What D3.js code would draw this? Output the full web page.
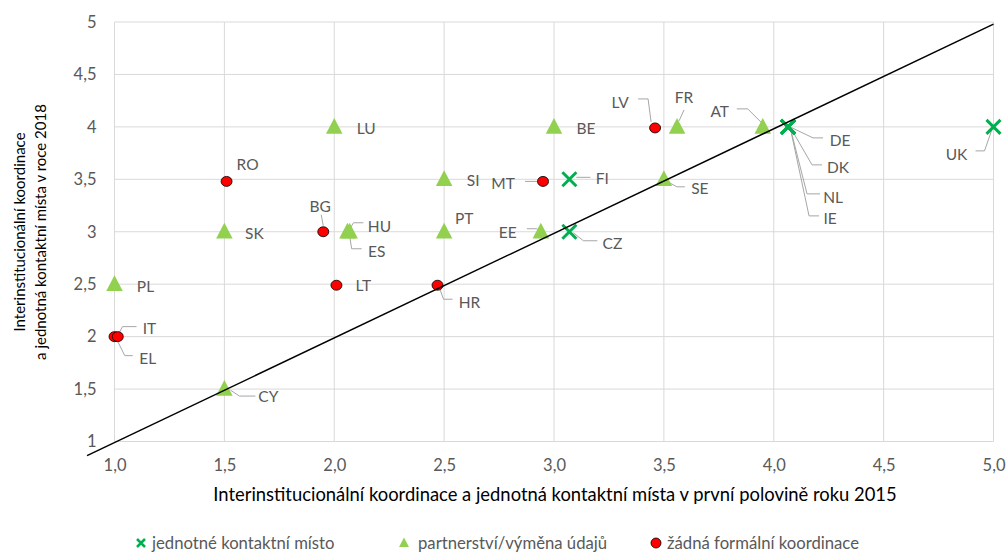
<!DOCTYPE html>
<html><head><meta charset="utf-8">
<script src="https://cdn.jsdelivr.net/npm/d3@7"></script>
<style>body{margin:0;background:#fff;} svg{display:block;}</style>
</head><body>
<svg id="chart" width="1006" height="552"></svg>
<script>
// ---- data ----
const xTicks = [1.0, 1.5, 2.0, 2.5, 3.0, 3.5, 4.0, 4.5, 5.0];
const yTicks = [1, 1.5, 2, 2.5, 3, 3.5, 4, 4.5, 5];
const xTitle = "Interinstitucionální koordinace a jednotná kontaktní místa v první polovině roku 2015";
const yTitle = ["Interinstitucionální koordinace", "a jednotná kontaktní místa v roce 2018"];
const seriesNames = ["jednotné kontaktní místo", "partnerství/výměna údajů", "žádná formální koordinace"];

const singleNames = ["FI", "CZ", "DE", "DK", "NL", "IE", "UK"];
const single2015  = [3.07, 3.07, 4.065, 4.065, 4.065, 4.065, 5.0];
const single2018  = [3.5, 3.0, 4.0, 4.0, 4.0, 4.0, 4.0];

const partnerNames = ["PL", "SK", "CY", "LU", "HU", "ES", "SI", "PT", "EE", "BE", "FR", "AT", "SE"];
const partner2015  = [1.0, 1.5, 1.5, 2.0, 2.06, 2.07, 2.5, 2.5, 2.94, 3.0, 3.56, 3.95, 3.5];
const partner2018  = [2.5, 3.0, 1.5, 4.0, 3.0, 3.0, 3.5, 3.0, 3.0, 4.0, 4.0, 4.0, 3.5];

const noneNames = ["IT", "EL", "RO", "BG", "LT", "HR", "MT", "LV"];
const none2015  = [1.0, 1.015, 1.51, 1.95, 2.01, 2.47, 2.95, 3.46];
const none2018  = [2.0, 2.0, 3.48, 3.0, 2.49, 2.49, 3.48, 3.99];

const diagX = [0.875, 5.0];
const diagY = [0.865, 4.98];

// ---- label layout (offsets in px from the marker) ----
const labelLayout = {
  RO:{t:[21,-17]}, BG:{t:[-3,-26], l:[[-2,-17],[0,-6]]}, LT:{t:[27,0]},
  HR:{t:[32,17], l:[[2,3],[6,14],[15,14]]}, MT:{t:[-40,2], l:[[-18,0],[-6,0],[-3,-1]]},
  LV:{t:[-35,-26], l:[[-17,-29],[-7,-29],[-4,-6]]},
  FR:{t:[7,-30], l:[[7,-17],[2,-6]]}, AT:{t:[-43,-16], l:[[-26,-18],[-15,-18],[-1,-4]]},
  SE:{t:[36,9], l:[[3,2],[13,7.5],[21,7.5]]}, FI:{t:[33,-1.5], l:[[7,-2],[21,-2]]},
  CZ:{t:[43,11], l:[[4,1],[14,9],[28,9]]},
  DE:{t:[52,13], l:[[2,0],[25,11],[35,11]]}, DK:{t:[50,40], l:[[2,0],[24,38],[34,38]]},
  NL:{t:[45,70], l:[[2,0],[19,67],[32,67]]}, IE:{t:[42,91], l:[[2,0],[21,89],[31,89]]},
  UK:{t:[-37,27], l:[[-1,1],[-9,24],[-18,24]]},
  EE:{t:[-33,0], l:[[-14,-3],[-4,-3],[0,0]]},
  HU:{t:[32,-6], l:[[2,-2],[6,-9],[16,-9]]}, ES:{t:[27,19], l:[[0,4],[2,17],[12,17]]},
  PT:{t:[20,-14]}, SI:{t:[29,1]}, CY:{t:[44,7], l:[[6,1],[15,7],[31,7]]},
  IT:{t:[35,-9], l:[[2,1],[8,-10],[22,-10]]}, EL:{t:[30,21], l:[[-2,1],[7,19],[15,19]]},
  PL:{t:[31,1.5]}, SK:{t:[30,1]}, LU:{t:[32,1]}, BE:{t:[32,1]}
};

const FONT = "Lato, 'Open Sans', sans-serif";
const svg = d3.select("#chart");
const x = d3.scaleLinear().domain([1, 5]).range([114.5, 993.5]);
const y = d3.scaleLinear().domain([1, 5]).range([441.5, 22]);

// grid
const g = svg.append("g");
g.selectAll(".gx").data(xTicks).join("line")
  .attr("x1", d => x(d)).attr("x2", d => x(d)).attr("y1", y(5)).attr("y2", y(1))
  .attr("stroke", "#d9d9d9").attr("stroke-width", 1);
g.selectAll(".gy").data(yTicks).join("line")
  .attr("x1", x(1)).attr("x2", x(5)).attr("y1", d => y(d)).attr("y2", d => y(d))
  .attr("stroke", "#d9d9d9").attr("stroke-width", 1);

// axes via d3 axis
const fmtX = d => d3.format(".1f")(d).replace(".", ",");
const fmtY = d => String(d).replace(".", ",");
const xAxis = svg.append("g").attr("transform", `translate(0,${y(1)})`)
  .call(d3.axisBottom(x).tickValues(xTicks).tickFormat(fmtX).tickSize(0).tickPadding(18));
const yAxis = svg.append("g").attr("transform", `translate(${x(1)},0)`)
  .call(d3.axisLeft(y).tickValues(yTicks).tickFormat(fmtY).tickSize(0).tickPadding(18));
[xAxis, yAxis].forEach(a => {
  a.select(".domain").remove();
  a.selectAll("text").attr("fill", "#595959").style("font-family", FONT).style("font-size", "16.5px");
});

// titles
svg.append("text").attr("x", 555).attr("y", 494).attr("text-anchor", "middle")
  .attr("dominant-baseline", "central")
  .style("font-family", FONT).style("font-size", "18.4px").attr("fill", "#000").text(xTitle);
yTitle.forEach((t, i) => {
  svg.append("text").attr("transform", `translate(${25 + i * 21},232) rotate(-90)`)
    .attr("text-anchor", "middle").style("font-family", FONT).style("font-size", "15px")
    .attr("fill", "#000").text(t);
});

// build point sets
const mk = (names, xs, ys, type) => names.map((n, i) => ({name: n, x: xs[i], y: ys[i], type}));
const pts = [].concat(
  mk(noneNames, none2015, none2018, "circle"),
  mk(partnerNames, partner2015, partner2018, "tri"),
  mk(singleNames, single2015, single2018, "x")
);

// leaders
const lg = svg.append("g");
pts.forEach(p => {
  const L = labelLayout[p.name];
  if (L && L.l) {
    const px = x(p.x), py = y(p.y);
    lg.append("polyline")
      .attr("points", L.l.map(q => `${px + q[0]},${py + q[1]}`).join(" "))
      .attr("fill", "none").attr("stroke", "#a6a6a6").attr("stroke-width", 1);
  }
});

// markers
const triPath = s => `M0,${-s * 0.6}L${s * 0.55},${s * 0.45}L${-s * 0.55},${s * 0.45}Z`;
const xPath = s => `M${-s},${-s}L${s},${s}M${-s},${s}L${s},${-s}`;
const mg = svg.append("g");
mg.selectAll(".tri").data(pts.filter(p => p.type === "tri")).join("path")
  .attr("transform", d => `translate(${x(d.x)},${y(d.y)})`)
  .attr("d", triPath(15)).attr("fill", "#92d050");
mg.selectAll(".cir").data(pts.filter(p => p.type === "circle")).join("ellipse")
  .attr("cx", d => x(d.x)).attr("cy", d => y(d.y)).attr("rx", 5.5).attr("ry", 5)
  .attr("fill", "#ff0000").attr("stroke", "#000").attr("stroke-width", 0.8);
mg.selectAll(".xx").data(pts.filter(p => p.type === "x")).join("path")
  .attr("transform", d => `translate(${x(d.x)},${y(d.y)})`)
  .attr("d", xPath(7)).attr("stroke", "#00b050").attr("stroke-width", 3).attr("fill", "none");

// diagonal line
svg.append("line")
  .attr("x1", x(diagX[0])).attr("y1", y(diagY[0])).attr("x2", x(diagX[1])).attr("y2", y(diagY[1]))
  .attr("stroke", "#000").attr("stroke-width", 1.5);

// labels
svg.append("g").selectAll("text").data(pts).join("text")
  .attr("x", d => x(d.x) + labelLayout[d.name].t[0])
  .attr("y", d => y(d.y) + labelLayout[d.name].t[1])
  .attr("text-anchor", "middle").attr("dominant-baseline", "central")
  .style("font-family", FONT).style("font-size", "15.5px").attr("fill", "#595959")
  .text(d => d.name);

// legend
const legY = 543;
const leg = svg.append("g");
const legPos = [[141, 152], [404, 418], [656, 667]];
leg.append("path").attr("transform", `translate(${legPos[0][0]},${legY})`)
  .attr("d", xPath(4)).attr("stroke", "#00b050").attr("stroke-width", 2.5);
leg.append("path").attr("transform", `translate(${legPos[1][0]},${legY})`)
  .attr("d", triPath(9)).attr("fill", "#92d050");
leg.append("circle").attr("cx", legPos[2][0]).attr("cy", legY).attr("r", 5)
  .attr("fill", "#ff0000").attr("stroke", "#000").attr("stroke-width", 0.8);
seriesNames.forEach((n, i) => {
  leg.append("text").attr("x", legPos[i][1]).attr("y", legY).attr("dominant-baseline", "central")
    .style("font-family", FONT).style("font-size", "16.7px").attr("fill", "#595959").text(n);
});
</script>
</body></html>
